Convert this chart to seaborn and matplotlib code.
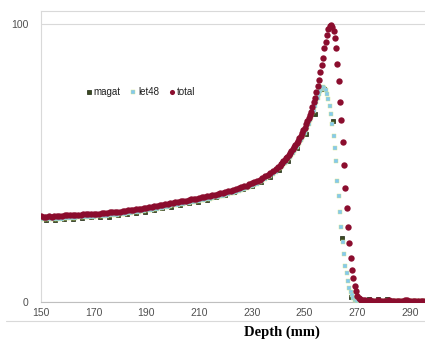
import matplotlib
matplotlib.use("Agg")
import matplotlib.pyplot as plt
from matplotlib.lines import Line2D
import seaborn as sns
import pandas as pd

# ---------------- data ----------------
depth = [
    150, 151, 152, 153, 154, 155, 156, 157, 158, 159,
    160, 161, 162, 163, 164, 165, 166, 167, 168, 169,
    170, 171, 172, 173, 174, 175, 176, 177, 178, 179,
    180, 181, 182, 183, 184, 185, 186, 187, 188, 189,
    190, 191, 192, 193, 194, 195, 196, 197, 198, 199,
    200, 201, 202, 203, 204, 205, 206, 207, 208, 209,
    210, 211, 212, 213, 214, 215, 216, 217, 218, 219,
    220, 221, 222, 223, 224, 225, 226, 227, 228, 229,
    230, 231, 232, 233, 234, 235, 236, 237, 238, 239,
    240, 240.5, 241, 241.5, 242, 242.5, 243, 243.5, 244, 244.5,
    245, 245.5, 246, 246.5, 247, 247.5, 248, 248.5, 249, 249.5,
    250, 250.5, 251, 251.5, 252, 252.5, 253, 253.5, 254, 254.5,
    255, 255.5, 256, 256.5, 257, 257.5, 258, 258.5, 259, 259.5,
    260, 260.5, 261, 261.5, 262, 262.5, 263, 263.5, 264, 264.5,
    265, 265.5, 266, 266.5, 267, 267.5, 268, 268.5, 269, 269.5,
    270, 270.5, 271, 271.5, 272,
    273, 274, 275, 276, 277, 278, 279, 280, 281, 282,
    283, 284, 285, 286, 287, 288, 289, 290, 291, 292,
    293, 294, 295, 296,
]

total = [
    30.8, 30.6, 30.6, 30.7, 30.6, 30.8, 30.8, 30.9, 30.8, 31.0,
    31.0, 31.1, 31.0, 31.2, 31.3, 31.3, 31.4, 31.4, 31.6, 31.5,
    31.6, 31.7, 31.7, 31.9, 31.8, 31.9, 32.1, 32.1, 32.3, 32.3,
    32.4, 32.6, 32.7, 32.8, 32.9, 33.1, 33.2, 33.4, 33.5, 33.6,
    33.8, 34.0, 34.1, 34.3, 34.5, 34.7, 34.8, 35.0, 35.2, 35.4,
    35.6, 35.7, 35.9, 36.1, 36.2, 36.4, 36.6, 36.8, 36.9, 37.1,
    37.3, 37.5, 37.7, 37.9, 38.1, 38.3, 38.5, 38.8, 39.0, 39.2,
    39.5, 39.7, 40.0, 40.2, 40.5, 40.8, 41.1, 41.5, 41.8, 42.2,
    42.6, 43.0, 43.5, 43.9, 44.5, 45.1, 45.7, 46.3, 47.0, 47.8,
    48.6, 49.0, 49.5, 49.9, 50.5, 51.0, 51.6, 52.2, 52.9, 53.5,
    54.2, 54.9, 55.6, 56.4, 57.2, 58.0, 58.9, 59.8, 60.8, 61.7,
    62.7, 63.8, 64.9, 66.0, 67.1, 68.4, 70.2, 71.9, 73.4, 75.4,
    77.5, 79.8, 82.6, 85.2, 87.8, 91.4, 93.7, 96.0, 98.1, 99.3,
    99.8, 99.0, 97.6, 94.9, 91.4, 85.6, 79.5, 72.0, 65.3, 57.5,
    49.1, 40.8, 33.7, 26.8, 21.0, 15.8, 11.4, 8.3, 5.6, 3.7,
    2.1, 1.3, 0.9, 0.6, 0.5,
    0.4, 0.3, 0.4, 0.3, 0.3, 0.4, 0.3, 0.3, 0.3, 0.4,
    0.3, 0.3, 0.3, 0.3, 0.3, 0.4, 0.5, 0.3, 0.3, 0.3,
    0.3, 0.3, 0.3, 0.3,
]

let48 = [
    29.8, 29.7, 29.6, 29.7, 29.7, 29.8, 29.8, 29.9, 29.9, 30.0,
    30.0, 30.1, 30.1, 30.2, 30.3, 30.3, 30.4, 30.4, 30.6, 30.5,
    30.6, 30.7, 30.7, 30.9, 30.8, 30.9, 31.1, 31.1, 31.3, 31.3,
    31.4, 31.6, 31.7, 31.8, 31.9, 32.1, 32.2, 32.4, 32.5, 32.6,
    32.8, 33.0, 33.1, 33.3, 33.5, 33.7, 33.8, 34.0, 34.2, 34.4,
    34.6, 34.7, 34.9, 35.1, 35.2, 35.4, 35.6, 35.8, 35.9, 36.1,
    36.3, 36.5, 36.7, 36.9, 37.1, 37.3, 37.5, 37.8, 38.0, 38.2,
    38.5, 38.7, 39.0, 39.2, 39.5, 39.8, 40.1, 40.5, 40.8, 41.2,
    41.6, 42.0, 42.5, 42.9, 43.5, 44.1, 44.7, 45.3, 46.0, 46.8,
    47.6, 48.0, 48.4, 48.9, 49.4, 49.9, 50.4, 51.0, 51.6, 52.2,
    52.8, 53.5, 54.2, 54.9, 55.6, 56.4, 57.2, 58.1, 59.0, 59.9,
    60.9, 61.9, 63.0, 64.1, 65.3, 66.6, 67.8, 68.7, 70.6, 72.0,
    73.3, 74.7, 75.9, 76.7, 77.2, 77.0, 76.1, 74.8, 72.9, 70.6,
    67.6, 63.9, 59.5, 55.2, 50.6, 43.6, 38.0, 32.3, 26.7, 21.6,
    17.1, 12.8, 10.1, 7.3, 5.0, 3.4, 2.2, 1.2, 0.7, 0.4,
    0.3, 0.2, 0.2, 0.2, 0.2,
    0.2, 0.2, 0.2, 0.2, 0.2, 0.2, 0.2, 0.2, 0.2, 0.2,
    0.2, 0.2, 0.2, 0.2, 0.2, 0.2, 0.2, 0.2, 0.2, 0.2,
    0.2, 0.2, 0.2, 0.2,
]

magat_depth = [
    151.9, 155.3, 158.7, 162.1, 165.5, 168.9, 172.3, 175.7, 179.1, 182.5,
    185.9, 189.3, 192.7, 196.1, 199.5, 202.9, 206.3, 209.7, 213.1, 216.5,
    219.9, 223.3, 226.7, 230.1, 233.5, 236.9, 240.3, 243.7, 247.1, 250.5,
    253.9, 257.3, 260.7, 264.1, 267.5, 270.9, 274.3, 277.7, 281.1, 284.5,
    287.9, 291.3, 294.7,
]
magat = [
    29.3, 29.5, 29.7, 29.8, 30.0, 30.3, 30.4, 30.6, 31.0, 31.4,
    31.9, 32.3, 33.0, 33.6, 34.1, 34.7, 35.4, 36.0, 36.7, 37.5,
    38.4, 39.3, 40.4, 41.7, 43.2, 44.9, 47.3, 50.8, 55.2, 60.3,
    67.4, 76.6, 65.1, 23.0, 1.7, 0.4, 0.9, 0.9, 0.9, 0.3,
    0.3, 0.3, 0.3,
]

x_ticks = [150, 170, 190, 210, 230, 250, 270, 290]
y_ticks = [0, 100]

# ---------------- figure ----------------
sns.set_style("white")
plt.rcParams["font.family"] = ["Liberation Sans", "DejaVu Sans"]

fig = plt.figure(figsize=(4.25, 3.39), dpi=100)
ax = fig.add_axes([41 / 425, 1 - 301.5 / 339, 1 - 41 / 425, (301.5 - 11) / 339])

df_main = pd.DataFrame({"depth": depth, "total": total, "let48": let48})
df_mag = pd.DataFrame({"depth": magat_depth, "magat": magat})

sns.scatterplot(data=df_mag, x="depth", y="magat", ax=ax, marker="s", s=9,
                color="#3b4a22", edgecolor="#1c2610", linewidth=0.5,
                label="magat", zorder=3)
sns.scatterplot(data=df_main, x="depth", y="let48", ax=ax, marker="s", s=11,
                color="#84c9ef", edgecolor="#d2e486", linewidth=0.3,
                label="let48", zorder=4)
sns.scatterplot(data=df_main, x="depth", y="total", ax=ax, marker="o", s=21,
                color="#8b0d2e", edgecolor="#8b0d2e", linewidth=0,
                label="total", zorder=5)

ax.set_xlim(150, 295.7)
ax.set_ylim(0, 104.7)
ax.set_xticks(x_ticks)
ax.set_yticks(y_ticks)
ax.set_xlabel("")
ax.set_ylabel("")

ax.grid(axis="y", color="#d9d9d9", linewidth=0.8)
ax.grid(axis="x", visible=False)
ax.set_axisbelow(True)

for side in ["top", "left"]:
    ax.spines[side].set_visible(True)
    ax.spines[side].set_color("#d9d9d9")
    ax.spines[side].set_linewidth(0.8)
ax.spines["right"].set_visible(False)
ax.spines["bottom"].set_visible(True)
ax.spines["bottom"].set_color("#bfbfbf")
ax.spines["bottom"].set_linewidth(0.8)

ax.tick_params(axis="x", length=3, width=0.8, color="#bfbfbf", direction="out",
               labelsize=7.5, labelcolor="#505050", pad=2)
ax.tick_params(axis="y", length=0, labelsize=7.5, labelcolor="#505050", pad=9)

leg = ax.legend(loc="center", bbox_to_anchor=(0.258, 0.721), ncol=3,
                frameon=False, fontsize=7, handletextpad=0.1,
                columnspacing=0.9, markerscale=0.8, handlelength=0.8)
for t in leg.get_texts():
    t.set_color("#202020")

fig.add_artist(Line2D([6 / 425, 1], [1 - 320.7 / 339, 1 - 320.7 / 339],
                      color="#d9d9d9", linewidth=0.8))
fig.text(281.7 / 425, 1 - 335.5 / 339, "Depth (mm)", ha="center", va="baseline",
         fontsize=10.5, fontweight="bold", family=["Liberation Serif", "DejaVu Serif"],
         color="#000000")

fig.savefig("out.png", dpi=100)
